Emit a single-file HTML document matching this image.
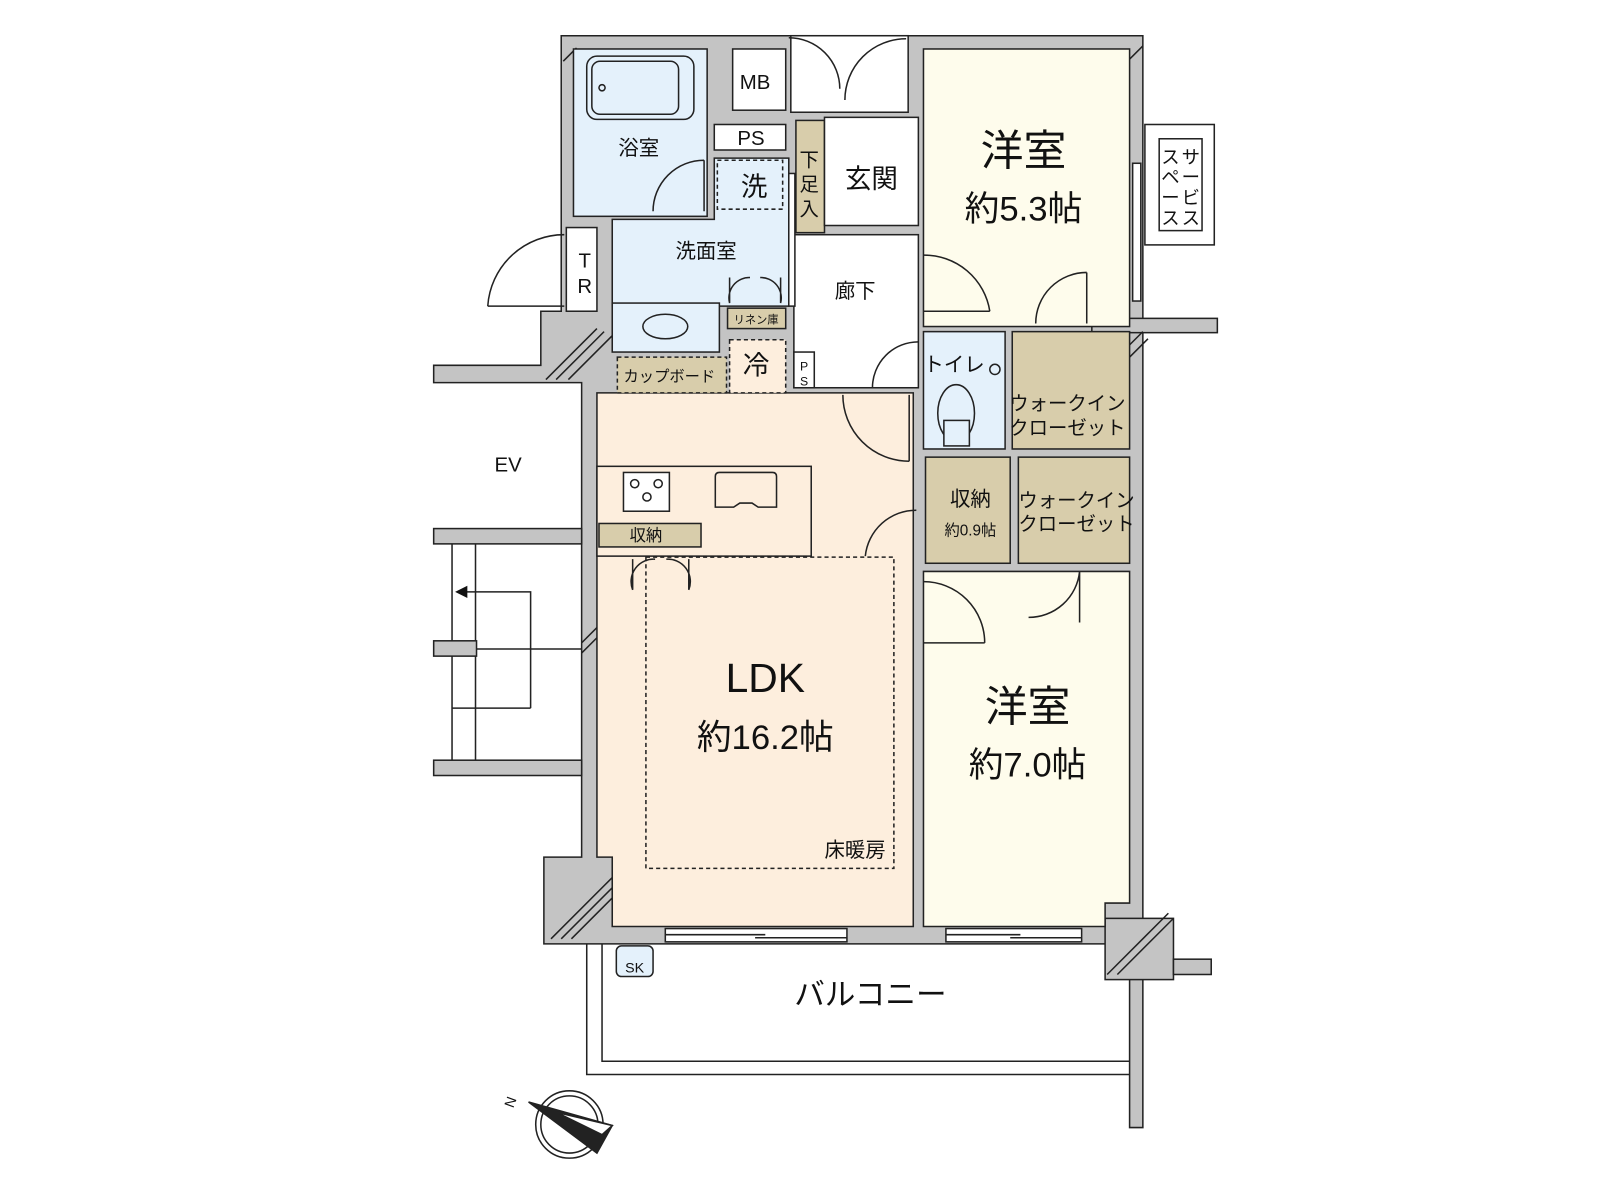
<!DOCTYPE html>
<html><head><meta charset="utf-8"><style>
html,body{margin:0;padding:0;background:#fff;}
svg{display:block}
text{font-family:"Liberation Sans","Noto Sans CJK JP",sans-serif;fill:#111}
</style></head><body>
<svg width="1600" height="1200" viewBox="0 0 1568 1176" preserveAspectRatio="none" xmlns="http://www.w3.org/2000/svg">
<g stroke="#222" stroke-width="1.5">
<polygon fill="#c4c4c4" points="550,35 1120,35 1120,1105 1107,1105 1107,925 533,925 533,840 570,840 570,375 425,375 425,358 530,358 530,305 550,305"/>
<rect x="1070" y="312" width="123" height="14" fill="#c4c4c4"/>
<rect x="1083" y="900" width="67" height="60" fill="#c4c4c4"/>
<rect x="1150" y="940" width="37" height="15" fill="#c4c4c4"/>
<rect x="425" y="518" width="145" height="15" fill="#c4c4c4"/>
<rect x="425" y="745" width="145" height="15" fill="#c4c4c4"/>
</g>
<g stroke="#222" stroke-width="1.5">
<line x1="535" y1="372" x2="585" y2="322"/><line x1="545" y1="372" x2="592" y2="325"/><line x1="557" y1="372" x2="600" y2="329"/>
<line x1="540" y1="920" x2="600" y2="860"/><line x1="550" y1="920" x2="600" y2="870"/><line x1="560" y1="920" x2="600" y2="880"/>
<line x1="1085" y1="955" x2="1145" y2="895"/><line x1="1095" y1="955" x2="1150" y2="900"/>
<line x1="1075" y1="370" x2="1120" y2="325"/><line x1="1085" y1="372" x2="1125" y2="332"/>
<line x1="552" y1="60" x2="565" y2="47"/><line x1="1105" y1="60" x2="1120" y2="45"/>
<line x1="570" y1="630" x2="585" y2="615"/><line x1="570" y1="640" x2="585" y2="625"/>
</g>
<g stroke="#222" stroke-width="1.5">
<rect x="562" y="48" width="131" height="164" fill="#e4f1fb"/>
<polygon fill="#e4f1fb" points="700,155 773,155 773,300 600,300 600,215 700,215"/>
<rect x="600" y="297" width="105" height="48" fill="#e4f1fb"/>
<rect x="718" y="48" width="52" height="60" fill="#fff"/>
<rect x="700" y="122" width="70" height="25" fill="#fff"/>
<rect x="775" y="35" width="115" height="75" fill="#fff"/>
<rect x="780" y="118" width="28" height="110" fill="#d8cdab"/>
<rect x="808" y="115" width="92" height="106" fill="#fff"/>
<rect x="778" y="230" width="122" height="150" fill="#fff"/>
<rect x="905" y="48" width="202" height="272" fill="#fefcec"/>
<rect x="905" y="325" width="80" height="115" fill="#e4f1fb"/>
<rect x="992" y="325" width="115" height="115" fill="#d8cdab"/>
<rect x="907" y="448" width="83" height="104" fill="#d8cdab"/>
<rect x="998" y="448" width="109" height="104" fill="#d8cdab"/>
<polygon fill="#fefcec" points="905,560 1107,560 1107,885 1083,885 1083,908 905,908"/>
<polygon fill="#fdeedd" points="585,385 895,385 895,908 600,908 600,840 585,840"/>
<rect x="713" y="302" width="57" height="20" fill="#d8cdab"/>
<rect x="555" y="223" width="30" height="82" fill="#fff"/>
<rect x="1122" y="122" width="68" height="118" fill="#fff"/>
<rect x="1136" y="136" width="42" height="90" fill="#fff"/>
<rect x="778" y="345" width="20" height="35" fill="#fff"/>
</g>
<g fill="none" stroke="#222" stroke-width="1.5">
<rect x="585" y="457" width="210" height="88" fill="#fdeedd"/>
<rect x="587" y="513" width="100" height="23" fill="#d8cdab"/>
<rect x="611" y="463" width="45" height="38" fill="#fff"/>
<circle cx="622" cy="474" r="4"/><circle cx="645" cy="474" r="4"/><circle cx="634" cy="487" r="4"/>
<path d="M705 463 h52 q4 0 4 4 v30 h-18 l-6 -4 h-12 l-6 4 h-18 v-30 q0 -4 4 -4z"/>
<rect x="605" y="350" width="107" height="35" fill="#d8cdab" stroke-dasharray="4 3"/>
<rect x="715" y="333" width="55" height="52" fill="#fdeedd" stroke-dasharray="4 3"/>
<rect x="703" y="157" width="64" height="48" stroke-dasharray="4 3"/>
<rect x="633" y="546" width="243" height="305" stroke-dasharray="4 3"/>
<rect x="575" y="55" width="105" height="62" rx="10"/>
<rect x="580" y="60" width="85" height="52" rx="8"/>
<circle cx="590" cy="86" r="3"/>
<ellipse cx="652" cy="320" rx="22" ry="12"/>
<ellipse cx="937" cy="405" rx="18" ry="28"/>
<rect x="925" y="412" width="25" height="25" fill="#e4f1fb"/>
<circle cx="975" cy="362" r="5"/>
<path d="M690 157 A50 50 0 0 0 640 207 M690 157 V207"/>
<path d="M773 37 A50 50 0 0 1 823 87"/>
<path d="M888 38 A60 60 0 0 0 828 98"/>
<path d="M905 250 A65 65 0 0 1 970 305 M905 305 H970"/>
<path d="M1065 267 A50 50 0 0 0 1015 317 M1065 267 V317"/>
<path d="M900 335 A45 45 0 0 0 855 380 M900 380 H855"/>
<path d="M826 387 A65 65 0 0 0 891 452 M891 387 V452"/>
<path d="M898 500 A50 50 0 0 0 848 545"/>
<path d="M905 570 A60 60 0 0 1 965 630 M905 630 H965"/>
<path d="M1058 560 A50 50 0 0 1 1008 605 M1058 560 V610"/>
<path d="M553 230 A75 75 0 0 0 478 300 M478 300 H553"/>
<path d="M620 548 v30 a22 22 0 0 1 22 -30 M675 548 v30 a22 22 0 0 0 -22 -30"/>
<path d="M715 272 v25 a20 20 0 0 1 20 -25 M765 272 v25 a20 20 0 0 0 -20 -25"/>
<line x1="443" y1="533" x2="443" y2="745"/><line x1="466" y1="533" x2="466" y2="745"/>
<line x1="466" y1="636" x2="570" y2="636"/><line x1="443" y1="694" x2="520" y2="694"/>
<polyline points="452,580 520,580 520,694"/>
<rect x="425" y="628" width="42" height="15" fill="#c4c4c4"/>
<polyline points="575,925 575,1053 1107,1053"/>
<polyline points="590,925 590,1040 1107,1040"/>
<rect x="652" y="910" width="178" height="13" fill="#fff"/>
<line x1="652" y1="916" x2="750" y2="916"/><line x1="740" y1="919" x2="830" y2="919"/>
<rect x="927" y="910" width="133" height="13" fill="#fff"/>
<line x1="927" y1="916" x2="1000" y2="916"/><line x1="990" y1="919" x2="1060" y2="919"/>
<rect x="1110" y="160" width="8" height="135" fill="#fff"/>
<rect x="773" y="170" width="6" height="130" fill="#fff"/>
<rect x="604" y="927" width="36" height="30" rx="5" fill="#e4f1fb"/>
<circle cx="558" cy="1102" r="33"/><circle cx="558" cy="1102" r="28"/>
<polygon points="518,1080 600,1103 585,1130" fill="#222"/>
<polygon points="545,1090 600,1103 590,1112" fill="#fff"/>
</g>
<polygon points="446,580 458,574 458,586" fill="#111"/>
<g font-size="20" text-anchor="middle">
<text x="626" y="152">浴室</text>
<text x="740" y="87">MB</text>
<text x="736" y="142">PS</text>
<text x="739" y="192" font-size="26">洗</text>
<text x="854" y="184" font-size="26">玄関</text>
<text x="692" y="253">洗面室</text>
<text x="838" y="292">廊下</text>
<text x="741" y="367" font-size="26">冷</text>
<text x="656" y="374" font-size="15">カップボード</text>
<text x="741" y="317" font-size="11">リネン庫</text>
<text x="633" y="530" font-size="16">収納</text>
<text x="951" y="496">収納</text>
<text x="951" y="525" font-size="15">約0.9帖</text>
<text x="1046" y="402" font-size="19">ウォークイン</text>
<text x="1046" y="426" font-size="19">クローゼット</text>
<text x="1055" y="497" font-size="19">ウォークイン</text>
<text x="1055" y="520" font-size="19">クローゼット</text>
<text x="935" y="364">トイレ</text>
<text x="498" y="462">EV</text>
<text x="1003" y="162" font-size="42">洋室</text>
<text x="1003" y="216" font-size="34">約5.3帖</text>
<text x="1007" y="707" font-size="42">洋室</text>
<text x="1007" y="761" font-size="34">約7.0帖</text>
<text x="750" y="678" font-size="40">LDK</text>
<text x="750" y="734" font-size="34">約16.2帖</text>
<text x="838" y="840">床暖房</text>
<text x="853" y="985" font-size="30">バルコニー</text>
<text x="622" y="953" font-size="14">SK</text>
<text x="573" y="262">T</text>
<text x="573" y="287">R</text>
<text x="793" y="163" font-size="19">下</text>
<text x="793" y="187" font-size="19">足</text>
<text x="793" y="211" font-size="19">入</text>
<text x="788" y="363" font-size="12">P</text>
<text x="788" y="378" font-size="12">S</text>
<text x="1167" y="160" font-size="18">サ</text>
<text x="1167" y="180" font-size="18">ー</text>
<text x="1167" y="200" font-size="18">ビ</text>
<text x="1167" y="220" font-size="18">ス</text>
<text x="1147" y="160" font-size="18">ス</text>
<text x="1147" y="180" font-size="18">ペ</text>
<text x="1147" y="200" font-size="18">ー</text>
<text x="1147" y="220" font-size="18">ス</text>
<text x="500" y="1085" font-size="14" transform="rotate(-70 500 1080)">N</text>
</g>
</svg>
</body></html>
